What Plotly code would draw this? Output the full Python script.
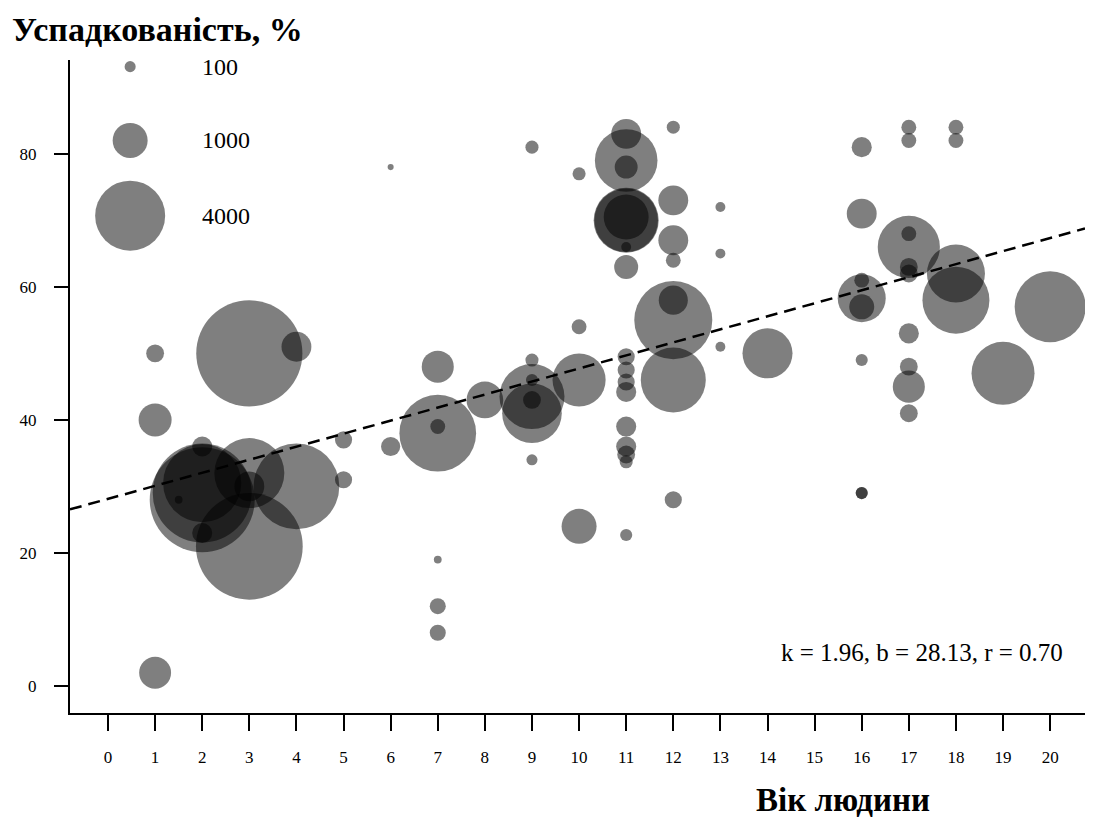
import plotly.graph_objects as go

# ---- data: (age, heritability %, sample size) ----
age = [1, 1, 1, 1.5,
       2, 2, 2, 2, 2,
       3, 3, 3, 3,
       4, 4,
       5, 5,
       6, 6,
       7, 7, 7, 7, 7, 7,
       8,
       9, 9, 9, 9, 9, 9, 9,
       10, 10, 10, 10,
       11, 11, 11, 11, 11, 11, 11, 11, 11, 11, 11, 11, 11, 11, 11, 11, 11,
       12, 12, 12, 12, 12, 12, 12, 12,
       13, 13, 13,
       14,
       16, 16, 16, 16, 16, 16, 16, 16,
       17, 17, 17, 17, 17, 17, 17, 17, 17, 17,
       18, 18, 18, 18,
       19,
       20]
herit = [50, 40, 2, 28,
         36, 28, 29, 30.5, 23,
         50, 32, 30, 21,
         51, 30,
         37, 31,
         36, 78,
         48, 38, 39, 19, 12, 8,
         43,
         81, 49, 46, 43.5, 41, 43, 34,
         77, 54, 46, 24,
         83, 79, 78, 70, 70, 70.5, 66, 63, 49.5, 47.5, 45.7, 44.2, 39, 36, 34.8, 33.7, 22.7,
         84, 73, 67, 64, 58, 55, 46, 28,
         72, 65, 51,
         50,
         81, 71, 61, 58.3, 57, 49, 29, 29,
         84, 82, 68, 66, 63, 62, 53, 48, 45, 41,
         84, 82, 62, 58,
         47,
         57]
n_size = [260, 890, 830, 50,
          330, 9000, 8000, 5000, 330,
          9200, 4000, 730, 9300,
          730, 6000,
          240, 240,
          300, 30,
          840, 4800, 180, 50, 210, 210,
          1100,
          140, 140, 120, 3450, 2900, 260, 100,
          140, 180, 2300, 1000,
          730, 3200, 430, 3450, 3300, 1650, 80, 470, 240, 240, 240, 330, 330, 330, 260, 140, 120,
          140, 730, 730, 180, 690, 4970, 3450, 240,
          80, 80, 80,
          2040,
          330, 730, 180, 1880, 510, 120, 120, 120,
          180, 180, 180, 3150, 260, 260, 330, 260, 840, 260,
          180, 180, 2750, 3660,
          3240,
          4110]

legend_n = [100, 1000, 4000]
legend_labels = ["100", "1000", "4000"]
legend_y = [93.1, 82.0, 70.7]
legend_x = 0.47

k, b, r = 1.96, 28.13, 0.70
x_range = [-0.807, 20.74]
y_range = [-4.06, 94.1]
x_ticks = list(range(0, 21))
y_ticks = [0, 20, 40, 60, 80]

SIZEREF = 1.632
FONT = "Liberation Serif"

fig = go.Figure()

fig.add_trace(go.Scatter(
    x=age, y=herit, mode="markers",
    marker=dict(size=n_size, sizemode="area", sizeref=SIZEREF, sizemin=0,
                color="black", opacity=0.5, line=dict(width=0)),
    hoverinfo="x+y+text", text=[str(v) for v in n_size], showlegend=False))

# legend bubbles
fig.add_trace(go.Scatter(
    x=[legend_x] * 3, y=legend_y, mode="markers",
    marker=dict(size=legend_n, sizemode="area", sizeref=SIZEREF,
                color="black", opacity=0.5, line=dict(width=0)),
    showlegend=False, hoverinfo="skip"))
for yy, lab in zip(legend_y, legend_labels):
    fig.add_annotation(x=1.95, y=yy, text=lab, showarrow=False, xanchor="left",
                       yanchor="middle", font=dict(family=FONT, size=24, color="black"))

# regression line
fig.add_trace(go.Scatter(
    x=x_range, y=[k * x_range[0] + b, k * x_range[1] + b], mode="lines",
    line=dict(color="black", width=2.5, dash="12px,7px"), showlegend=False,
    hoverinfo="skip"))

fig.add_annotation(xref="paper", yref="paper", x=0.980, y=0.0934,
                   text=f"k = {k:.2f}, b = {b:.2f}, r = {r:.2f}", showarrow=False,
                   xanchor="right", yanchor="middle",
                   font=dict(family=FONT, size=25, color="black"))

fig.add_annotation(xref="paper", yref="paper", x=-0.059, y=1.046,
                   text="<b>Успадкованість, %</b>", showarrow=False,
                   xanchor="left", yanchor="middle",
                   font=dict(family=FONT, size=34, color="black"))
fig.add_annotation(xref="paper", yref="paper", x=0.7616, y=-0.133,
                   text="<b>Вік людини</b>", showarrow=False,
                   xanchor="center", yanchor="middle",
                   font=dict(family=FONT, size=33, color="black"))

# page body adds an 8px offset; margins compensate so the plot lands at 70..1085 x 60..713
fig.update_layout(
    width=1093, height=832,
    margin=dict(l=62, r=16, t=52, b=127),
    paper_bgcolor="white", plot_bgcolor="white",
    font=dict(family=FONT, color="black"),
    xaxis=dict(range=x_range, tickvals=x_ticks, ticktext=[str(t) for t in x_ticks],
               showline=True, linecolor="black", linewidth=2, ticks="outside",
               ticklen=16, tickwidth=1.5, tickcolor="black", showgrid=False,
               zeroline=False, tickfont=dict(family=FONT, size=17, color="black"),
               ticklabelstandoff=12),
    yaxis=dict(range=y_range, tickvals=y_ticks, showline=True, linecolor="black",
               linewidth=2, ticks="outside", ticklen=14, tickwidth=1.5,
               tickcolor="black", showgrid=False, zeroline=False,
               tickfont=dict(family=FONT, size=17, color="black"),
               ticklabelstandoff=14),
)

fig.write_html("out.html")
